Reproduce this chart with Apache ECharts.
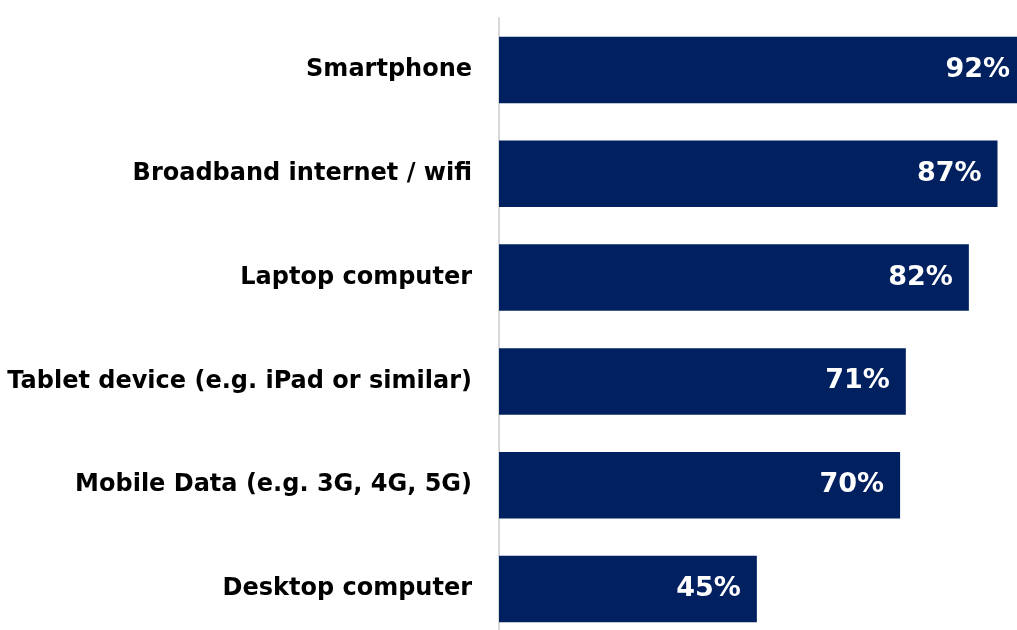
<!DOCTYPE html>
<html>
<head>
<meta charset="utf-8">
<script src="https://cdn.jsdelivr.net/npm/echarts@6/dist/echarts.min.js"></script>
<style>html,body{margin:0;padding:0;background:#fff;}#c{width:1017px;height:630px;}</style>
</head>
<body>
<div id="c"></div>
<script>
var categories = ["Smartphone", "Broadband internet / wifi", "Laptop computer", "Tablet device (e.g. iPad or similar)", "Mobile Data (e.g. 3G, 4G, 5G)", "Desktop computer"];
var values = [92, 87, 82, 71, 70, 45];

var chart = echarts.init(document.getElementById('c'));
chart.setOption({
  animation: false,
  grid: { left: 499, top: 18, width: 573, height: 623, outerBoundsMode: 'none', containLabel: false },
  xAxis: { type: 'value', min: 0, max: 100, show: false },
  yAxis: {
    type: 'category', data: categories, inverse: true,
    axisLine: { show: true, lineStyle: { color: '#d9d9d9', width: 2 } },
    axisTick: { show: false },
    axisLabel: { color: '#000', fontFamily: 'DejaVu Sans', fontWeight: 'bold', fontSize: 24, margin: 27 }
  },
  series: [{
    type: 'bar', data: values, barCategoryGap: '36%',
    itemStyle: { color: '#002060' },
    label: { show: true, position: 'insideRight', distance: 16, formatter: '{c}%', color: '#fff', fontFamily: 'DejaVu Sans', fontWeight: 'bold', fontSize: 27 }
  }]
});
</script>
</body>
</html>
